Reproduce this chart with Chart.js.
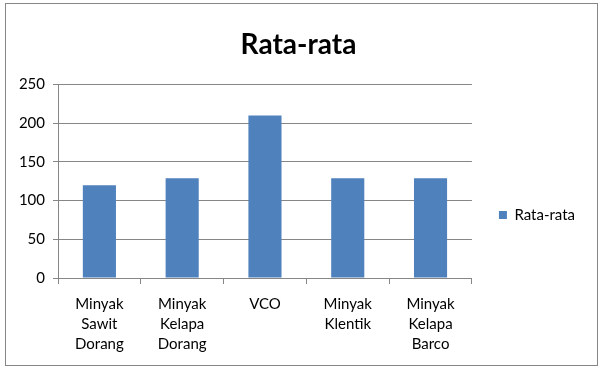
<!DOCTYPE html>
<html>
<head>
<meta charset="utf-8">
<script src="https://cdn.jsdelivr.net/npm/chart.js@4"></script>
<style>
  body { margin: 0; background: #fff; }
  #wrap { width: 605px; height: 374px; }
</style>
</head>
<body>
<div id="wrap"><canvas id="chart"></canvas></div>
<script>
const categories = [
    ['Minyak', 'Sawit', 'Dorang'],
    ['Minyak', 'Kelapa', 'Dorang'],
    ['VCO'],
    ['Minyak', 'Klentik'],
    ['Minyak', 'Kelapa', 'Barco']
];
const rataRata = [120, 129, 210, 129, 129];
const seriesName = 'Rata-rata';
const yTicks = [0, 50, 100, 150, 200, 250];

const FONT = 'Lato, "Open Sans", sans-serif';
const GRID = '#868686';

const borderPlugin = {
    id: 'outerBorder',
    beforeDraw(chart) {
        const c = chart.ctx;
        c.save();
        c.fillStyle = '#fff';
        c.fillRect(0, 0, chart.width, chart.height);
        c.strokeStyle = '#868686';
        c.lineWidth = 1;
        c.strokeRect(5.5, 3.5, 592, 362);
        c.restore();
    }
};

const ctx = document.getElementById('chart');
new Chart(ctx, {
    type: 'bar',
    data: {
        labels: categories,
        datasets: [{
            label: seriesName,
            data: rataRata,
            backgroundColor: '#4F81BD',
            borderWidth: 0,
            barPercentage: 0.4,
            categoryPercentage: 1.0
        }]
    },
    options: {
        responsive: true,
        maintainAspectRatio: false,
        animation: false,
        layout: { padding: { left: 12, right: 20, top: 10, bottom: 10 } },
        plugins: {
            title: {
                display: true,
                text: 'Rata-rata',
                color: '#000',
                font: { family: FONT, size: 28, weight: 'bold' },
                padding: { top: 18, bottom: 23 }
            },
            legend: {
                position: 'right',
                title: {
                    display: true,
                    text: ' ',
                    font: { family: FONT, size: 15 },
                    padding: { top: 38, bottom: 0 }
                },
                labels: {
                    color: '#000',
                    font: { family: FONT, size: 15 },
                    boxWidth: 8,
                    boxHeight: 8,
                    padding: 27
                }
            },
            tooltip: { enabled: false }
        },
        scales: {
            x: {
                grid: {
                    offset: true,
                    drawOnChartArea: false,
                    color: GRID,
                    tickLength: 6
                },
                border: { color: GRID },
                ticks: {
                    color: '#000',
                    font: { family: FONT, size: 15, lineHeight: 1.35 },
                    maxRotation: 0,
                    padding: 10
                },
                afterFit(scale) { scale.height = 86; }
            },
            y: {
                min: 0,
                max: 250,
                afterBuildTicks(scale) { scale.ticks = yTicks.map(v => ({ value: v })); },
                grid: { color: GRID, tickLength: 5 },
                border: { color: GRID },
                ticks: {
                    color: '#000',
                    font: { family: FONT, size: 15 },
                    padding: 8
                },
                afterFit(scale) { scale.width = 46; }
            }
        }
    },
    plugins: [borderPlugin]
});
</script>
</body>
</html>
